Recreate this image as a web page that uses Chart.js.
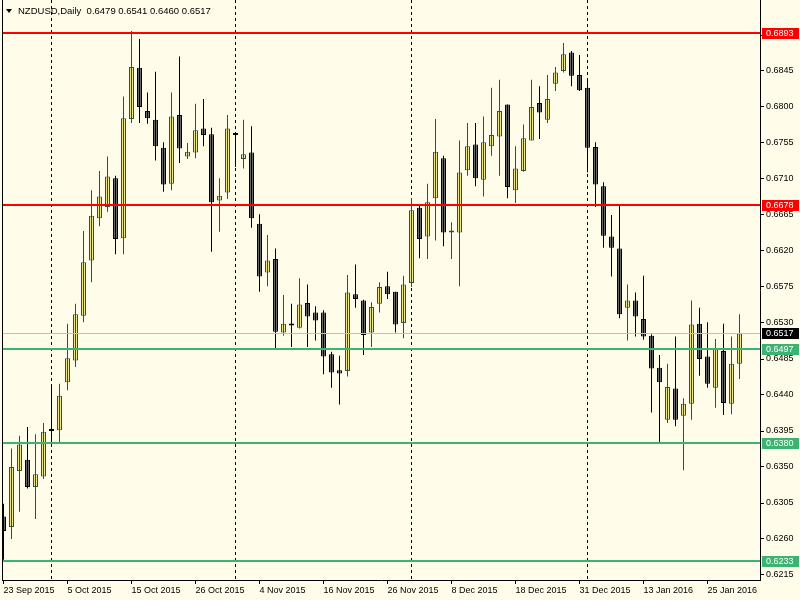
<!DOCTYPE html>
<html>
<head>
<meta charset="utf-8">
<script src="https://cdn.jsdelivr.net/npm/chart.js@4.4.1/dist/chart.umd.min.js"></script>
<style>
  html, body { margin: 0; padding: 0; background: #fffce9; }
  #wrap { width: 800px; height: 600px; }
</style>
</head>
<body>
<div id="wrap"><canvas id="chart" width="800" height="600"></canvas></div>
<script>
// NZDUSD daily, 23 Sep 2015 .. 29 Jan 2016 (one entry per bar)
const opens = [
  0.6288, 0.6275, 0.6345, 0.6359, 0.6325, 0.6338, 0.6396, 0.6396, 0.6456, 0.6483,
  0.6539, 0.6608, 0.6661, 0.6675, 0.6711, 0.6636, 0.6785, 0.6849, 0.6795, 0.6784,
  0.6749, 0.6704, 0.6790, 0.6738, 0.6743, 0.6773, 0.6766, 0.6683, 0.6693, 0.6766,
  0.6735, 0.6743, 0.6654, 0.6593, 0.6610, 0.6518, 0.6528, 0.6524, 0.6555, 0.6543,
  0.6543, 0.6491, 0.6471, 0.6470, 0.6566, 0.6558, 0.6518, 0.6554, 0.6576, 0.6569,
  0.6530, 0.6580, 0.6674, 0.6638, 0.6686, 0.6736, 0.6643, 0.6643, 0.6721, 0.6753,
  0.6709, 0.6751, 0.6763, 0.6803, 0.6696, 0.6720, 0.6758, 0.6805, 0.6784, 0.6829,
  0.6845, 0.6868, 0.6840, 0.6824, 0.6750, 0.6701, 0.6638, 0.6623, 0.6549, 0.6558,
  0.6535, 0.6514, 0.6474, 0.6409, 0.6448, 0.6414, 0.6429, 0.6529, 0.6488, 0.6449,
  0.6495, 0.6429, 0.6479
];
const highs = [
  0.6304, 0.6373, 0.6389, 0.6400, 0.6391, 0.6405, 0.6451, 0.6454, 0.6529, 0.6554,
  0.6645, 0.6696, 0.6720, 0.6738, 0.6714, 0.6813, 0.6895, 0.6885, 0.6818, 0.6844,
  0.6756, 0.6818, 0.6863, 0.6755, 0.6804, 0.6810, 0.6774, 0.6711, 0.6790, 0.6767,
  0.6784, 0.6776, 0.6666, 0.6640, 0.6623, 0.6565, 0.6554, 0.6586, 0.6578, 0.6551,
  0.6546, 0.6494, 0.6489, 0.6590, 0.6603, 0.6559, 0.6556, 0.6581, 0.6594, 0.6569,
  0.6589, 0.6686, 0.6678, 0.6704, 0.6785, 0.6739, 0.6656, 0.6758, 0.6780, 0.6780,
  0.6788, 0.6824, 0.6834, 0.6803, 0.6751, 0.6778, 0.6834, 0.6826, 0.6840, 0.6850,
  0.6880, 0.6870, 0.6865, 0.6834, 0.6756, 0.6706, 0.6665, 0.6678, 0.6578, 0.6568,
  0.6589, 0.6516, 0.6490, 0.6479, 0.6513, 0.6436, 0.6558, 0.6549, 0.6531, 0.6510,
  0.6529, 0.6513, 0.6541
];
const lows = [
  0.6234, 0.6260, 0.6294, 0.6323, 0.6285, 0.6335, 0.6381, 0.6381, 0.6446, 0.6475,
  0.6531, 0.6581, 0.6651, 0.6669, 0.6616, 0.6616, 0.6780, 0.6780, 0.6779, 0.6733,
  0.6694, 0.6696, 0.6730, 0.6735, 0.6736, 0.6751, 0.6619, 0.6644, 0.6685, 0.6725,
  0.6723, 0.6649, 0.6569, 0.6576, 0.6498, 0.6514, 0.6500, 0.6523, 0.6500, 0.6508,
  0.6466, 0.6449, 0.6428, 0.6463, 0.6549, 0.6490, 0.6500, 0.6543, 0.6560, 0.6518,
  0.6511, 0.6575, 0.6611, 0.6610, 0.6633, 0.6626, 0.6610, 0.6576, 0.6714, 0.6701,
  0.6688, 0.6739, 0.6714, 0.6686, 0.6680, 0.6719, 0.6758, 0.6760, 0.6780, 0.6820,
  0.6843, 0.6826, 0.6820, 0.6718, 0.6675, 0.6624, 0.6588, 0.6536, 0.6508, 0.6513,
  0.6509, 0.6418, 0.6380, 0.6405, 0.6401, 0.6346, 0.6409, 0.6464, 0.6449, 0.6424,
  0.6415, 0.6416, 0.6460
];
const closes = [
  0.6270, 0.6350, 0.6378, 0.6325, 0.6341, 0.6394, 0.6395, 0.6439, 0.6486, 0.6541,
  0.6606, 0.6664, 0.6688, 0.6713, 0.6635, 0.6786, 0.6850, 0.6800, 0.6786, 0.6751,
  0.6703, 0.6788, 0.6748, 0.6744, 0.6771, 0.6765, 0.6681, 0.6689, 0.6773, 0.6765,
  0.6741, 0.6661, 0.6588, 0.6608, 0.6519, 0.6529, 0.6527, 0.6553, 0.6538, 0.6533,
  0.6488, 0.6468, 0.6467, 0.6568, 0.6560, 0.6515, 0.6550, 0.6575, 0.6566, 0.6528,
  0.6578, 0.6671, 0.6635, 0.6681, 0.6744, 0.6643, 0.6645, 0.6718, 0.6751, 0.6711,
  0.6756, 0.6765, 0.6795, 0.6700, 0.6723, 0.6761, 0.6800, 0.6793, 0.6810, 0.6843,
  0.6866, 0.6839, 0.6821, 0.6749, 0.6703, 0.6639, 0.6624, 0.6541, 0.6558, 0.6538,
  0.6513, 0.6473, 0.6456, 0.6450, 0.6409, 0.6429, 0.6528, 0.6485, 0.6454, 0.6498,
  0.6430, 0.6479, 0.6517
];

// time axis labels (bar index -> text)
const dateTickIdx = [0, 8, 16, 24, 32, 40, 48, 56, 64, 72, 80, 88];
const dateTickText = ['23 Sep 2015', '5 Oct 2015', '15 Oct 2015', '26 Oct 2015', '4 Nov 2015',
  '16 Nov 2015', '26 Nov 2015', '8 Dec 2015', '18 Dec 2015', '31 Dec 2015', '13 Jan 2016', '25 Jan 2016'];
// month separators (bar index)
const separatorIdx = [6, 29, 51, 73];

// price axis
const priceTicks = [0.6215, 0.6260, 0.6305, 0.6350, 0.6395, 0.6440, 0.6485, 0.6530,
  0.6575, 0.6620, 0.6665, 0.6710, 0.6755, 0.6800, 0.6845, 0.6890];

// horizontal levels
const resistance = [0.6893, 0.6678];
const support = [0.6497, 0.6380, 0.6233];
const lastPrice = 0.6517;

const header = 'NZDUSD,Daily  0.6479 0.6541 0.6460 0.6517';

const FONT = 'Liberation Sans';
const isUp = i => closes[i] >= opens[i];

const drawExtras = {
  id: 'extras',
  beforeDraw(chart) {
    const c = chart.ctx;
    c.save();
    c.fillStyle = '#fffce9';
    c.fillRect(0, 0, chart.width, chart.height);
    c.restore();
  },
  beforeDatasetsDraw(chart) {
    const c = chart.ctx, a = chart.chartArea, x = chart.scales.x;
    c.save();
    c.strokeStyle = '#000';
    c.lineWidth = 1;
    c.setLineDash([3, 3]);
    separatorIdx.forEach(i => {
      const px = Math.round(x.getPixelForValue(i)) - 0.5;
      c.beginPath();
      c.moveTo(px, a.top);
      c.lineTo(px, a.bottom);
      c.stroke();
    });
    c.restore();
  },
  afterDatasetsDraw(chart) {
    const c = chart.ctx, a = chart.chartArea, y = chart.scales.y;
    c.save();
    const hline = (v, col, w) => {
      const py = Math.round(y.getPixelForValue(v)) + (w % 2 ? 0.5 : 0);
      c.strokeStyle = col;
      c.lineWidth = w;
      c.beginPath();
      c.moveTo(a.left, py);
      c.lineTo(a.right, py);
      c.stroke();
    };
    hline(lastPrice, '#c0c0c0', 1);
    resistance.forEach(v => hline(v, '#ff0000', 2));
    support.forEach(v => hline(v, '#3cb371', 2));

    // left frame
    c.strokeStyle = '#000';
    c.lineWidth = 1;
    c.beginPath();
    c.moveTo(a.left + 0.5, a.top);
    c.lineTo(a.left + 0.5, a.bottom);
    c.stroke();

    // header
    c.fillStyle = '#000';
    c.beginPath();
    c.moveTo(6, 9);
    c.lineTo(12, 9);
    c.lineTo(9, 13);
    c.closePath();
    c.fill();
    c.font = '9.5px "' + FONT + '"';
    c.textBaseline = 'middle';
    c.fillText(header, 18, 11);
    c.restore();
  },
  afterDraw(chart) {
    const c = chart.ctx, a = chart.chartArea, y = chart.scales.y;
    c.save();
    c.font = '9px "' + FONT + '"';
    c.textBaseline = 'middle';
    const tag = (v, bg) => {
      const py = Math.round(y.getPixelForValue(v));
      c.fillStyle = bg;
      c.fillRect(a.right + 2, py - 5, 800 - a.right - 3, 11);
      c.fillStyle = '#fff';
      c.fillText(v.toFixed(4), a.right + 6, py + 0.5);
    };
    resistance.forEach(v => tag(v, '#ff0000'));
    tag(lastPrice, '#000');
    support.forEach(v => tag(v, '#3cb371'));
    c.restore();
  }
};

new Chart(document.getElementById('chart'), {
  type: 'bar',
  data: {
    datasets: [
      {
        label: 'wick',
        data: opens.map((o, i) => ({ x: i, y: [lows[i], highs[i]] })),
        backgroundColor: ctx => isUp(ctx.dataIndex) ? '#2f4f4f' : '#000000',
        borderWidth: 0,
        barThickness: 1,
        inflateAmount: 0,
        grouped: false
      },
      {
        label: 'body',
        data: opens.map((o, i) => ({ x: i, y: [o, closes[i]] })),
        backgroundColor: ctx => isUp(ctx.dataIndex) ? '#f0e68c' : '#696969',
        borderColor: ctx => isUp(ctx.dataIndex) ? '#2f4f4f' : '#000000',
        borderWidth: 1,
        borderSkipped: false,
        barThickness: 5,
        minBarLength: 2,
        inflateAmount: 0,
        grouped: false
      }
    ]
  },
  options: {
    responsive: false,
    animation: false,
    devicePixelRatio: 1,
    events: [],
    layout: { padding: { left: 2, top: 0, right: 0, bottom: 0 } },
    plugins: { legend: { display: false }, tooltip: { enabled: false } },
    scales: {
      x: {
        type: 'linear',
        offset: false,
        min: -0.1875,
        max: 94.5625,
        afterBuildTicks: s => { s.ticks = dateTickIdx.map(v => ({ value: v })); },
        afterFit: s => { s.height = 20; s.paddingLeft = 0; s.paddingRight = 0; },
        grid: { offset: false, drawOnChartArea: false, drawTicks: true, tickLength: 4, color: '#000' },
        border: { color: '#000', width: 1 },
        ticks: {
          align: 'start',
          padding: 1,
          maxRotation: 0,
          autoSkip: false,
          color: '#000',
          font: { family: FONT, size: 9 },
          callback: (v, i) => dateTickText[i]
        }
      },
      y: {
        position: 'right',
        min: 0.620875,
        max: 0.693375,
        afterBuildTicks: s => { s.ticks = priceTicks.map(v => ({ value: v })); },
        afterFit: s => { s.width = 40; s.paddingTop = 0; s.paddingBottom = 0; },
        grid: { drawOnChartArea: false, drawTicks: true, tickLength: 4, color: '#000' },
        border: { color: '#000', width: 1 },
        ticks: {
          padding: 2,
          color: '#000',
          font: { family: FONT, size: 9 },
          callback: v => v.toFixed(4)
        }
      }
    }
  },
  plugins: [drawExtras]
});
</script>
</body>
</html>
